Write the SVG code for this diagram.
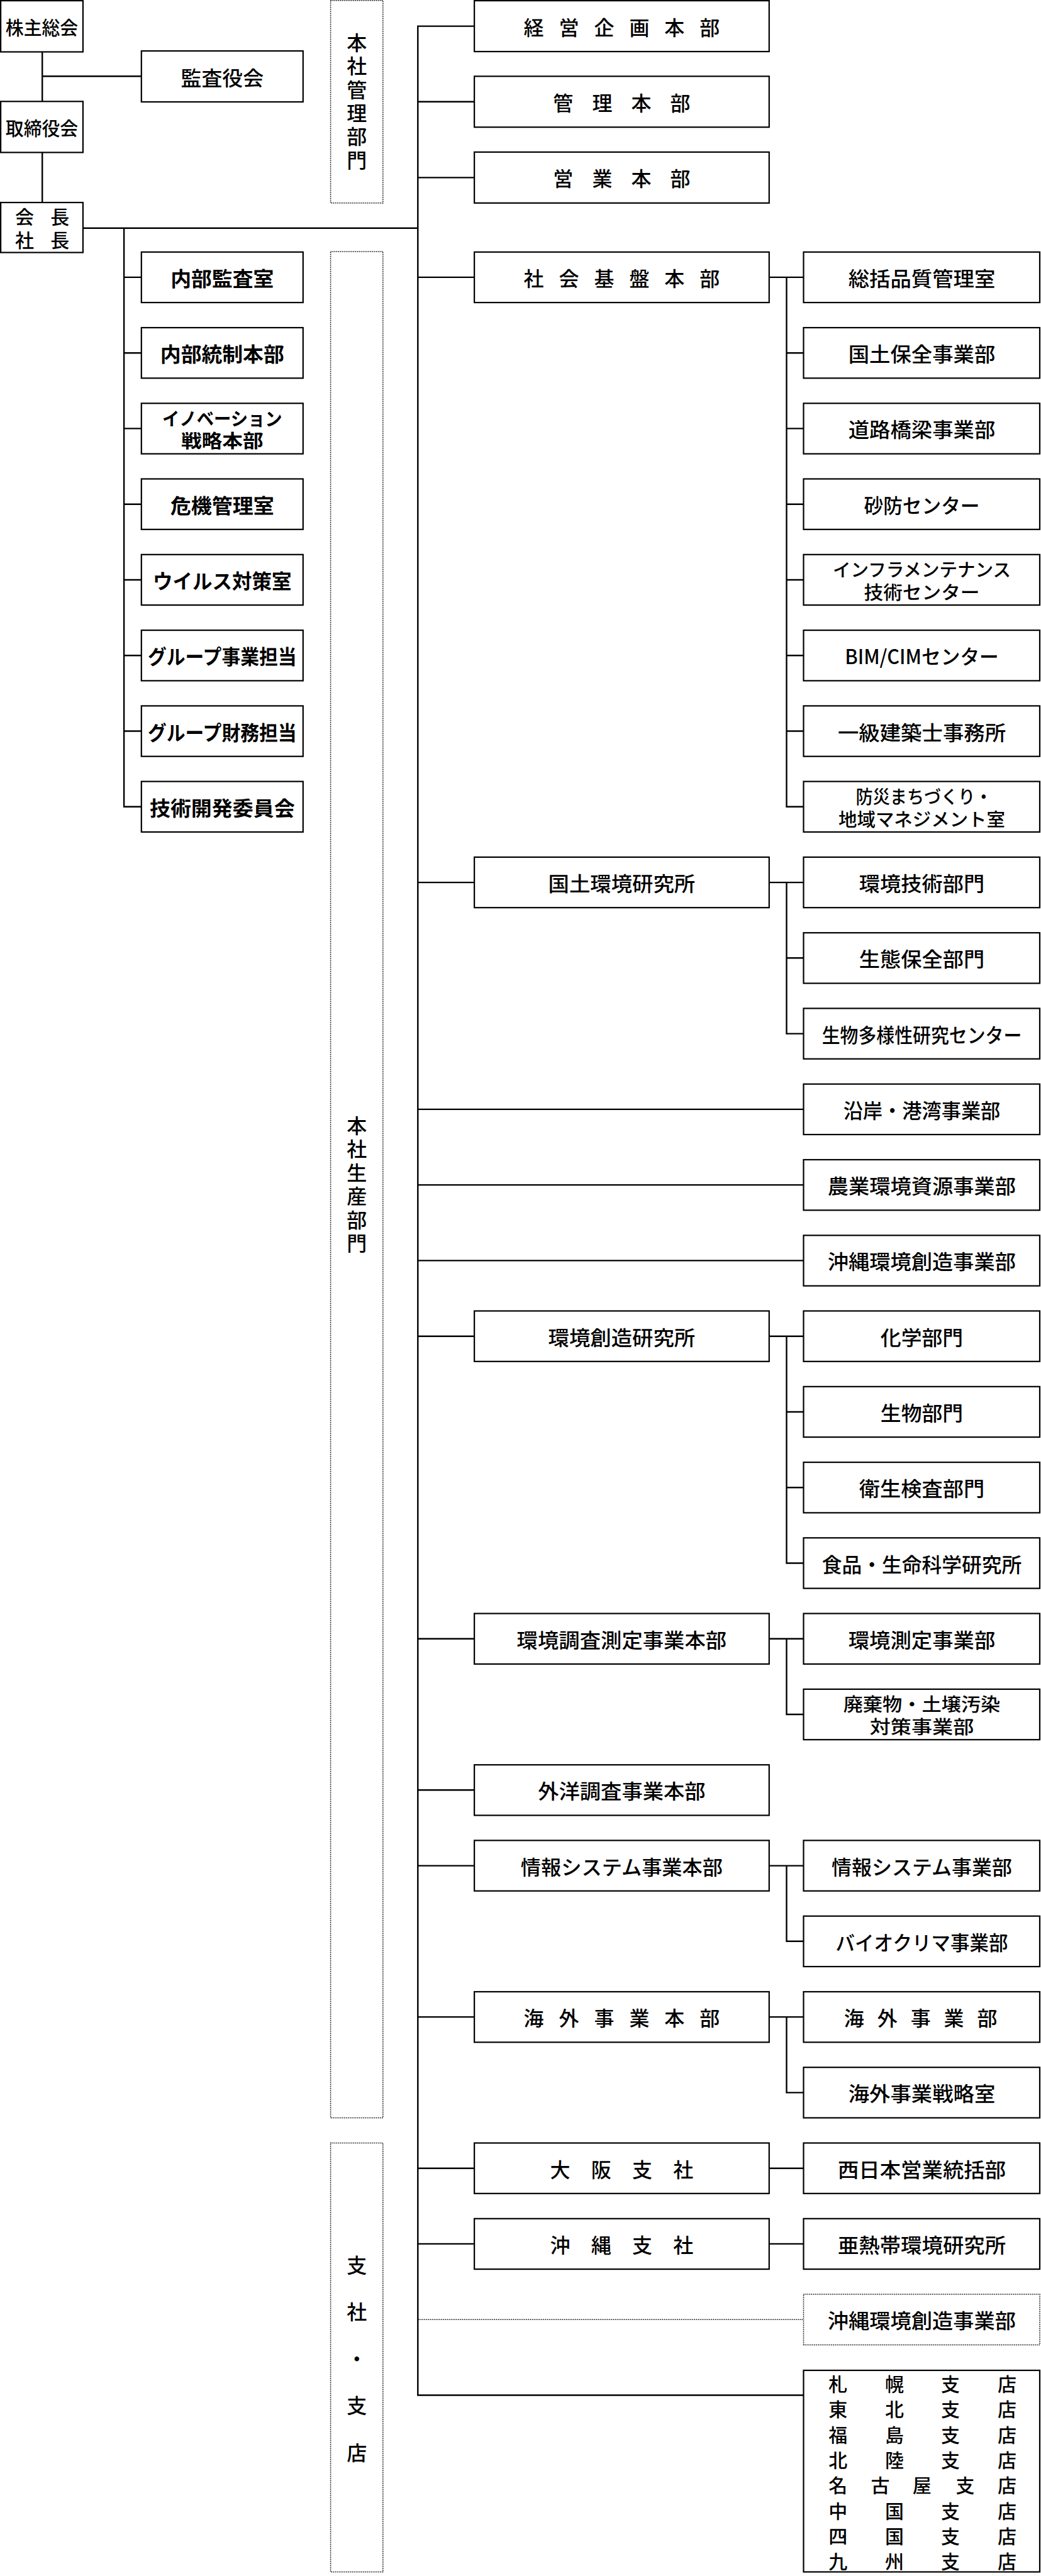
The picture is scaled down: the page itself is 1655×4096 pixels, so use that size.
<svg xmlns="http://www.w3.org/2000/svg" width="1655" height="4096" viewBox="0 0 1655 4096">
<style>
.box{fill:#fff;stroke:#000;stroke-width:2.2}
.dbox{fill:#fff;stroke:#000;stroke-width:1.5;stroke-dasharray:1.5 1.5}
.ln{fill:none;stroke:#000;stroke-width:2.4;stroke-linecap:square}
.dln{fill:none;stroke:#000;stroke-width:1.5;stroke-dasharray:1.5 1.5}
text{font-family:"Noto Sans CJK JP","Noto Sans CJK SC",sans-serif;font-size:32px;font-weight:500;text-anchor:middle;dominant-baseline:central;fill:#000}
.v{writing-mode:vertical-rl;letter-spacing:5.4px}
.b{font-weight:700}
.s{font-size:30px}
.t{font-size:29px}
</style>
<rect width="1655" height="4096" fill="#fff"/>
<g id="connectors">
<path class="ln" d="M67.2,82.5V322 M67.2,121.2H224.8 M132,362.8H664.3 M664.3,41.6V3808.5 M664.3,41.6H754.1 M664.3,161.7H754.1 M664.3,282.4H754.1
M197.1,362.8V1282.8 M197.1,440.9H224.8 M197.1,561.2H224.8 M197.1,681.4H224.8 M197.1,801.7H224.8 M197.1,922H224.8 M197.1,1042.3H224.8 M197.1,1162.5H224.8 M197.1,1282.8H224.8
M664.3,440.9H1277.5 M664.3,1403.1H1277.5 M664.3,2124.7H1277.5 M664.3,2605.8H1277.5 M664.3,2846.3H754.1 M664.3,2966.6H1277.5 M664.3,3207.1H1277.5 M664.3,3447.7H1277.5 M664.3,3567.9H1277.5
M664.3,1763.9H1277.5 M664.3,1884.1H1277.5 M664.3,2004.4H1277.5 M664.3,3808.5H1277.5
M1250.5,440.9V1282.8 M1250.5,561.2H1277.5 M1250.5,681.4H1277.5 M1250.5,801.7H1277.5 M1250.5,922H1277.5 M1250.5,1042.3H1277.5 M1250.5,1162.5H1277.5 M1250.5,1282.8H1277.5
M1250.5,1403.1V1643.6 M1250.5,1523.3H1277.5 M1250.5,1643.6H1277.5
M1250.5,2124.7V2485.5 M1250.5,2245H1277.5 M1250.5,2365.2H1277.5 M1250.5,2485.5H1277.5
M1250.5,2605.8V2726 M1250.5,2726H1277.5
M1250.5,2966.6V3086.8 M1250.5,3086.8H1277.5
M1250.5,3207.1V3327.4 M1250.5,3327.4H1277.5"/>
<path class="dln" d="M665.5,3688.2H1277.5"/>
</g>
<g id="sections">
<rect class="dbox" x="525.6" y="0.8" width="83.2" height="321.9"/>
<text class="v" x="567.2" y="163.8">本社管理部門</text>
<rect class="dbox" x="525.6" y="400" width="83.2" height="2967.5"/>
<text class="v" x="567.2" y="1886.1">本社生産部門</text>
<rect class="dbox" x="525.6" y="3407.6" width="83.2" height="681.9"/>
<text><tspan x="567.2" y="3599.5">支</tspan><tspan x="567.2" y="3674">社</tspan><tspan x="567.2" y="3748.5">・</tspan><tspan x="567.2" y="3823">支</tspan><tspan x="567.2" y="3897.5">店</tspan></text>
</g>
<g id="n-kabunushi"><rect class="box" x="1.1" y="1.1" width="130.8" height="81.4"/><text class="s" x="66.5" y="41.8" textLength="115.3" lengthAdjust="spacingAndGlyphs">株主総会</text></g>
<g id="n-kansayaku"><rect class="box" x="224.8" y="81" width="257" height="81"/><text x="353.3" y="121.5" textLength="131.4" lengthAdjust="spacingAndGlyphs">監査役会</text></g>
<g id="n-torishimari"><rect class="box" x="1.1" y="161.3" width="130.8" height="81.1"/><text class="s" x="66.5" y="201.9" textLength="115.3" lengthAdjust="spacingAndGlyphs">取締役会</text></g>
<g id="n-kaicho"><rect class="box" x="1.1" y="322" width="130.8" height="79.5"/><text class="s"><tspan x="39 95.3" y="342.8">会長</tspan><tspan x="39 95.3" y="380.3">社長</tspan></text></g>
<g id="n-naibukansa"><rect class="box" x="224.8" y="400.75" width="257" height="80.3"/><text class="b" x="353.3" y="440.9" textLength="164" lengthAdjust="spacingAndGlyphs">内部監査室</text></g>
<g id="n-naibutosei"><rect class="box" x="224.8" y="521" width="257" height="80.3"/><text class="b" x="353.3" y="561.2" textLength="197" lengthAdjust="spacingAndGlyphs">内部統制本部</text></g>
<g id="n-innovation"><rect class="box" x="224.8" y="641.3" width="257" height="80.3"/><text class="b t"><tspan x="353.3" y="663.9" textLength="190.5" lengthAdjust="spacingAndGlyphs">イノベーション</tspan><tspan x="353.3" y="698.9" textLength="130.7" lengthAdjust="spacingAndGlyphs">戦略本部</tspan></text></g>
<g id="n-kiki"><rect class="box" x="224.8" y="761.5" width="257" height="80.3"/><text class="b" x="353.3" y="801.7" textLength="165" lengthAdjust="spacingAndGlyphs">危機管理室</text></g>
<g id="n-virus"><rect class="box" x="224.8" y="881.8" width="257" height="80.3"/><text class="b" x="353.3" y="922" textLength="220.5" lengthAdjust="spacingAndGlyphs">ウイルス対策室</text></g>
<g id="n-group-jigyo"><rect class="box" x="224.8" y="1002.1" width="257" height="80.3"/><text class="b" x="353.3" y="1042.3" textLength="236.5" lengthAdjust="spacingAndGlyphs">グループ事業担当</text></g>
<g id="n-group-zaimu"><rect class="box" x="224.8" y="1122.4" width="257" height="80.3"/><text class="b" x="353.3" y="1162.5" textLength="236.5" lengthAdjust="spacingAndGlyphs">グループ財務担当</text></g>
<g id="n-gijutsu-kaihatsu"><rect class="box" x="224.8" y="1242.6" width="257" height="80.3"/><text class="b" x="353.3" y="1282.8" textLength="230.7" lengthAdjust="spacingAndGlyphs">技術開発委員会</text></g>
<g id="n-keiei"><rect class="box" x="754.1" y="1.1" width="468.7" height="80.9"/><text x="848.6 904.5 960.5 1016.4 1072.3 1128.2" y="41.6">経営企画本部</text></g>
<g id="n-kanri"><rect class="box" x="754.1" y="121.3" width="468.7" height="80.9"/><text x="895.3 957.4 1019.4 1081.5" y="161.7">管理本部</text></g>
<g id="n-eigyo"><rect class="box" x="754.1" y="241.8" width="468.7" height="81"/><text x="895.3 957.4 1019.4 1081.5" y="282.4">営業本部</text></g>
<g id="n-shakai"><rect class="box" x="754.1" y="400.75" width="468.7" height="80.3"/><text x="848.6 904.5 960.5 1016.4 1072.3 1128.2" y="440.9">社会基盤本部</text></g>
<g id="n-kokudo-kenkyu"><rect class="box" x="754.1" y="1362.9" width="468.7" height="80.3"/><text x="988.4" y="1403.1" textLength="233.6" lengthAdjust="spacingAndGlyphs">国土環境研究所</text></g>
<g id="n-kankyo-sozo-kenkyu"><rect class="box" x="754.1" y="2084.5" width="468.7" height="80.3"/><text x="988.4" y="2124.7" textLength="233.6" lengthAdjust="spacingAndGlyphs">環境創造研究所</text></g>
<g id="n-kankyo-chosa"><rect class="box" x="754.1" y="2565.6" width="468.7" height="80.3"/><text x="988.4" y="2605.8" textLength="333.6" lengthAdjust="spacingAndGlyphs">環境調査測定事業本部</text></g>
<g id="n-gaiyo"><rect class="box" x="754.1" y="2806.2" width="468.7" height="80.3"/><text x="988.4" y="2846.3" textLength="266.5" lengthAdjust="spacingAndGlyphs">外洋調査事業本部</text></g>
<g id="n-joho-honbu"><rect class="box" x="754.1" y="2926.4" width="468.7" height="80.3"/><text x="988.4" y="2966.6" textLength="321.2" lengthAdjust="spacingAndGlyphs">情報システム事業本部</text></g>
<g id="n-kaigai-honbu"><rect class="box" x="754.1" y="3167" width="468.7" height="80.3"/><text x="848.6 904.5 960.5 1016.4 1072.3 1128.2" y="3207.1">海外事業本部</text></g>
<g id="n-osaka"><rect class="box" x="754.1" y="3407.5" width="468.7" height="80.3"/><text x="890.6 955.8 1021 1086.2" y="3447.7">大阪支社</text></g>
<g id="n-okinawa-shisha"><rect class="box" x="754.1" y="3527.8" width="468.7" height="80.3"/><text x="890.6 955.8 1021 1086.2" y="3567.9">沖縄支社</text></g>
<g id="n-sokatsu"><rect class="box" x="1277.5" y="400.75" width="375.5" height="80.3"/><text x="1465.5" y="440.9" textLength="233.6" lengthAdjust="spacingAndGlyphs">総括品質管理室</text></g>
<g id="n-kokudo-hozen"><rect class="box" x="1277.5" y="521" width="375.5" height="80.3"/><text x="1465.5" y="561.2" textLength="233.6" lengthAdjust="spacingAndGlyphs">国土保全事業部</text></g>
<g id="n-doro"><rect class="box" x="1277.5" y="641.3" width="375.5" height="80.3"/><text x="1465.5" y="681.4" textLength="233.6" lengthAdjust="spacingAndGlyphs">道路橋梁事業部</text></g>
<g id="n-sabo"><rect class="box" x="1277.5" y="761.5" width="375.5" height="80.3"/><text x="1465.5" y="801.7" textLength="184" lengthAdjust="spacingAndGlyphs">砂防センター</text></g>
<g id="n-infra"><rect class="box" x="1277.5" y="881.8" width="375.5" height="80.3"/><text class="t"><tspan x="1465.5" y="903.7" textLength="283.2" lengthAdjust="spacingAndGlyphs">インフラメンテナンス</tspan><tspan x="1465.5" y="940.3" textLength="184" lengthAdjust="spacingAndGlyphs">技術センター</tspan></text></g>
<g id="n-bim"><rect class="box" x="1277.5" y="1002.1" width="375.5" height="80.3"/><text x="1465.5" y="1042.3" textLength="244.6" lengthAdjust="spacingAndGlyphs">BIM/CIMセンター</text></g>
<g id="n-ikkyu"><rect class="box" x="1277.5" y="1122.4" width="375.5" height="80.3"/><text x="1465.5" y="1162.5" textLength="267.2" lengthAdjust="spacingAndGlyphs">一級建築士事務所</text></g>
<g id="n-bosai"><rect class="box" x="1277.5" y="1242.6" width="375.5" height="80.3"/><text class="t"><tspan x="1469" y="1264.5" textLength="216.8" lengthAdjust="spacingAndGlyphs">防災まちづくり・</tspan><tspan x="1465.5" y="1301" textLength="265" lengthAdjust="spacingAndGlyphs">地域マネジメント室</tspan></text></g>
<g id="n-kankyo-gijutsu"><rect class="box" x="1277.5" y="1362.9" width="375.5" height="80.3"/><text x="1465.5" y="1403.1" textLength="199.3" lengthAdjust="spacingAndGlyphs">環境技術部門</text></g>
<g id="n-seitai"><rect class="box" x="1277.5" y="1483.2" width="375.5" height="80.3"/><text x="1465.5" y="1523.3" textLength="199.3" lengthAdjust="spacingAndGlyphs">生態保全部門</text></g>
<g id="n-seibutsu-tayosei"><rect class="box" x="1277.5" y="1603.4" width="375.5" height="80.3"/><text x="1465.5" y="1643.6" textLength="317.6" lengthAdjust="spacingAndGlyphs">生物多様性研究センター</text></g>
<g id="n-engan"><rect class="box" x="1277.5" y="1723.7" width="375.5" height="80.3"/><text x="1465.5" y="1763.9" textLength="249.7" lengthAdjust="spacingAndGlyphs">沿岸・港湾事業部</text></g>
<g id="n-nogyo"><rect class="box" x="1277.5" y="1844" width="375.5" height="80.3"/><text x="1465.5" y="1884.1" textLength="299.3" lengthAdjust="spacingAndGlyphs">農業環境資源事業部</text></g>
<g id="n-okinawa-kankyo"><rect class="box" x="1277.5" y="1964.3" width="375.5" height="80.3"/><text x="1465.5" y="2004.4" textLength="299.3" lengthAdjust="spacingAndGlyphs">沖縄環境創造事業部</text></g>
<g id="n-kagaku"><rect class="box" x="1277.5" y="2084.5" width="375.5" height="80.3"/><text x="1465.5" y="2124.7" textLength="131.4" lengthAdjust="spacingAndGlyphs">化学部門</text></g>
<g id="n-seibutsu"><rect class="box" x="1277.5" y="2204.8" width="375.5" height="80.3"/><text x="1465.5" y="2245" textLength="131.4" lengthAdjust="spacingAndGlyphs">生物部門</text></g>
<g id="n-eisei"><rect class="box" x="1277.5" y="2325.1" width="375.5" height="80.3"/><text x="1465.5" y="2365.2" textLength="199.3" lengthAdjust="spacingAndGlyphs">衛生検査部門</text></g>
<g id="n-shokuhin"><rect class="box" x="1277.5" y="2445.3" width="375.5" height="80.3"/><text x="1465.5" y="2485.5" textLength="317.6" lengthAdjust="spacingAndGlyphs">食品・生命科学研究所</text></g>
<g id="n-kankyo-sokutei"><rect class="box" x="1277.5" y="2565.6" width="375.5" height="80.3"/><text x="1465.5" y="2605.8" textLength="233.6" lengthAdjust="spacingAndGlyphs">環境測定事業部</text></g>
<g id="n-haikibutsu"><rect class="box" x="1277.5" y="2685.9" width="375.5" height="80.3"/><text class="t"><tspan x="1465.5" y="2707.7" textLength="249.7" lengthAdjust="spacingAndGlyphs">廃棄物・土壌汚染</tspan><tspan x="1465.5" y="2744.3" textLength="165.7" lengthAdjust="spacingAndGlyphs">対策事業部</tspan></text></g>
<g id="n-joho-jigyo"><rect class="box" x="1277.5" y="2926.4" width="375.5" height="80.3"/><text x="1465.5" y="2966.6" textLength="286.9" lengthAdjust="spacingAndGlyphs">情報システム事業部</text></g>
<g id="n-bioclima"><rect class="box" x="1277.5" y="3046.7" width="375.5" height="80.3"/><text x="1465.5" y="3086.8" textLength="273.8" lengthAdjust="spacingAndGlyphs">バイオクリマ事業部</text></g>
<g id="n-kaigai-jigyo"><rect class="box" x="1277.5" y="3167" width="375.5" height="80.3"/><text x="1357.8 1410.7 1463.7 1516.6 1569.5" y="3207.1">海外事業部</text></g>
<g id="n-kaigai-senryaku"><rect class="box" x="1277.5" y="3287.2" width="375.5" height="80.3"/><text x="1465.5" y="3327.4" textLength="233.6" lengthAdjust="spacingAndGlyphs">海外事業戦略室</text></g>
<g id="n-nishinihon"><rect class="box" x="1277.5" y="3407.5" width="375.5" height="80.3"/><text x="1465.5" y="3447.7" textLength="267.2" lengthAdjust="spacingAndGlyphs">西日本営業統括部</text></g>
<g id="n-anettai"><rect class="box" x="1277.5" y="3527.8" width="375.5" height="80.3"/><text x="1465.5" y="3567.9" textLength="267.2" lengthAdjust="spacingAndGlyphs">亜熱帯環境研究所</text></g>
<g id="n-okinawa-kankyo-2"><rect class="dbox" x="1277.5" y="3648.1" width="375.5" height="80.3"/><text x="1465.5" y="3688.2" textLength="299.3" lengthAdjust="spacingAndGlyphs">沖縄環境創造事業部</text></g>
<g id="n-shiten"><rect class="box" x="1277.5" y="3769" width="375.5" height="320.5"/>
<text class="s"><tspan x="1332.3 1422 1511.1 1600.9" y="3789">札幌支店</tspan><tspan x="1332.3 1422 1511.1 1600.9" y="3829.3">東北支店</tspan><tspan x="1332.3 1422 1511.1 1600.9" y="3869.6">福島支店</tspan><tspan x="1332.3 1422 1511.1 1600.9" y="3909.9">北陸支店</tspan><tspan x="1332.3 1399.4 1465.8 1534.5 1600.9" y="3950.2">名古屋支店</tspan><tspan x="1332.3 1422 1511.1 1600.9" y="3990.5">中国支店</tspan><tspan x="1332.3 1422 1511.1 1600.9" y="4030.8">四国支店</tspan><tspan x="1332.3 1422 1511.1 1600.9" y="4071.1">九州支店</tspan></text>
</g>
</svg>
